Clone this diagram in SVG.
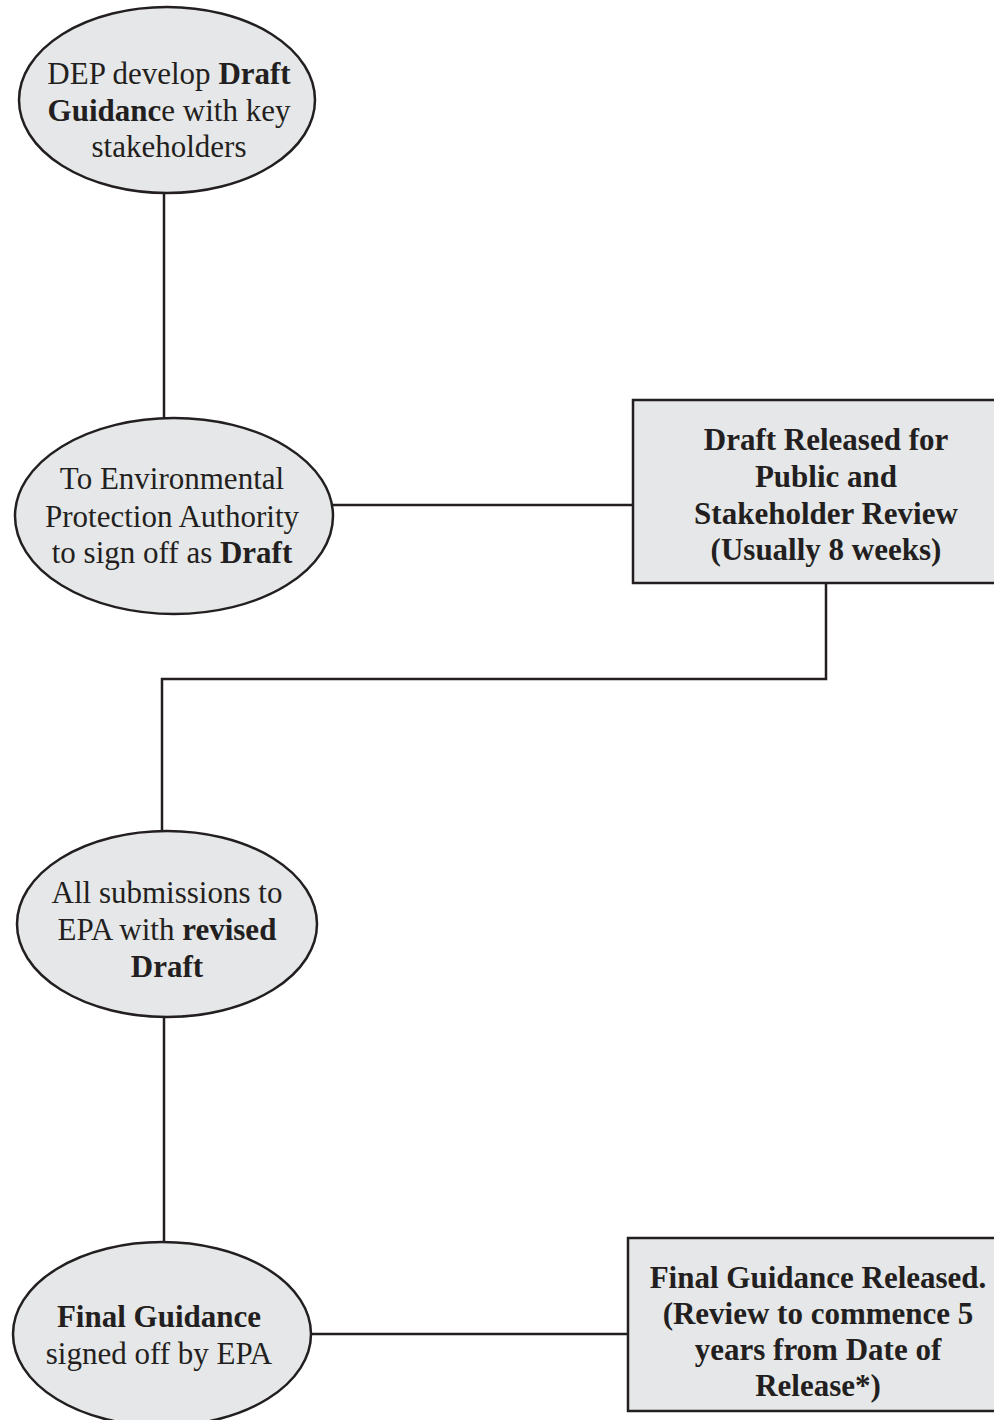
<svg xmlns="http://www.w3.org/2000/svg" width="994" height="1420" viewBox="0 0 994 1420">
<style>
.n{fill:#e6e7e8;stroke:#231f20;stroke-width:2.5}
.c{fill:none;stroke:#231f20;stroke-width:2.5}
text{font-family:"Liberation Serif","Times New Roman",serif;font-size:31px;fill:#231f20;text-anchor:middle}
.b{font-weight:bold}
</style>
<rect width="994" height="1420" fill="#ffffff"/>
<g id="connectors">
<line class="c" x1="164" y1="193" x2="164" y2="419"/>
<line class="c" x1="332" y1="505" x2="633" y2="505"/>
<polyline class="c" points="826,583 826,679 162,679 162,832"/>
<line class="c" x1="164" y1="1017" x2="164" y2="1242"/>
<line class="c" x1="311" y1="1334" x2="628" y2="1334"/>
</g>
<g id="n1">
<ellipse class="n" cx="167" cy="100" rx="148" ry="93"/>
<text x="169" y="84">DEP develop <tspan class="b">Draft</tspan></text>
<text x="169" y="121"><tspan class="b">Guidanc</tspan>e with key</text>
<text x="169" y="157">stakeholders</text>
</g>
<g id="n2">
<ellipse class="n" cx="174" cy="516" rx="159" ry="98"/>
<text x="172" y="489">To Environmental</text>
<text x="172" y="527">Protection Authority</text>
<text x="172" y="563">to sign off as <tspan class="b">Draft</tspan></text>
</g>
<g id="n3">
<rect class="n" x="633" y="400" width="390" height="183"/>
<text class="b" x="826" y="450">Draft Released for</text>
<text class="b" x="826" y="487">Public and</text>
<text class="b" x="826" y="524">Stakeholder Review</text>
<text class="b" x="826" y="560">(Usually 8 weeks)</text>
</g>
<g id="n4">
<ellipse class="n" cx="167" cy="924" rx="150" ry="93"/>
<text x="167" y="903">All submissions to</text>
<text x="167" y="940">EPA with <tspan class="b">revised</tspan></text>
<text class="b" x="167" y="977">Draft</text>
</g>
<g id="n5">
<ellipse class="n" cx="162" cy="1334" rx="149" ry="92"/>
<text class="b" x="159" y="1327">Final Guidance</text>
<text x="159" y="1364">signed off by EPA</text>
</g>
<g id="n6">
<rect class="n" x="628" y="1238" width="390" height="173"/>
<text class="b" x="818" y="1288">Final Guidance Released.</text>
<text class="b" x="818" y="1324">(Review to commence 5</text>
<text class="b" x="818" y="1360">years from Date of</text>
<text class="b" x="818" y="1396">Release*)</text>
</g>
</svg>
